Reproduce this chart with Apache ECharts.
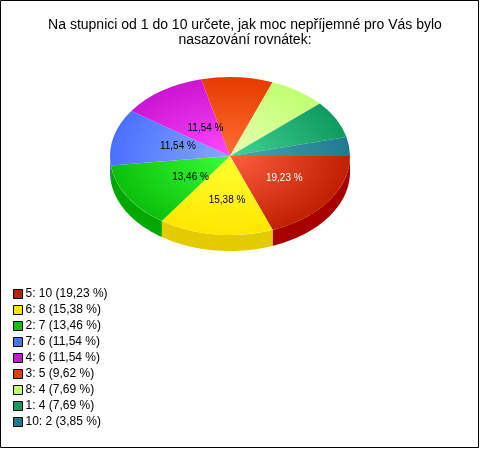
<!DOCTYPE html>
<html><head><meta charset="utf-8">
<style>html,body{margin:0;padding:0;background:#fff}#c{width:480px;height:449px}</style>
<script src="https://cdn.jsdelivr.net/npm/echarts@6/dist/echarts.min.js"></script>
</head><body><div id="c"></div>
<script>
const titleText = "Na stupnici od 1 do 10 určete, jak moc nepříjemné pro Vás bylo\nnasazování rovnátek:";
const categories = ["5","6","2","7","4","3","8","1","10"];
const values = [10,8,7,6,6,5,4,4,2];
const percents = ["19,23","15,38","13,46","11,54","11,54","9,62","7,69","7,69","3,85"];
const edgeColors = ["#c01f00","#ffe600","#0cc00c","#4a70ff","#cc14d4","#e63c00","#c0ff70","#109a60","#1f7a90"];
const centerColors = ["#ff5f3f","#ffff33","#36ff36","#85a8ff","#ff48ff","#ff6e33","#e8ffb4","#42d494","#4aa8b0"];
const wallColors = ["#a80000","#e3cb00","#00a800","#3a5ccc","#a010a8","#c03000","#a0d860","#0c8050","#186478"];

const FONT = '"Liberation Sans", Arial, sans-serif';
const CX = 230, CY = 156, RX = 120, RY = 79, DEPTH = 16;
const total = values.reduce((a,b)=>a+b,0);
const labelShift = [[0,-2],[5,1],[17,-1],[12,1],[13,8]];

function renderSlice(idx){
  return function(params, api){
    const before = values.slice(0,idx).reduce((a,b)=>a+b,0);
    const a0 = before/total*Math.PI*2;
    const a1 = (before+api.value(0))/total*Math.PI*2;
    const children = [];
    const w0 = a0, w1 = Math.min(a1, Math.PI);
    if (w0 < Math.PI){
      const top = [], bottom = [];
      const n = 48;
      for (let i=0;i<=n;i++){
        const a = w0+(w1-w0)*i/n;
        const x = CX+RX*Math.cos(a), y = CY+RY*Math.sin(a);
        top.push([x,y]); bottom.unshift([x,y+DEPTH]);
      }
      children.push({type:'polygon',shape:{points:top.concat(bottom)},style:{fill:wallColors[idx]},silent:true});
    }
    children.push({
      type:'sector',x:CX,y:CY,scaleX:1,scaleY:RY/RX,
      shape:{cx:0,cy:0,r0:0,r:RX,startAngle:a0,endAngle:a1,clockwise:true},
      style:{fill:{type:'radial',x:0,y:0,r:RX,global:true,
        colorStops:[{offset:0,color:centerColors[idx]},{offset:1,color:edgeColors[idx]}]}}
    });
    if (idx < labelShift.length){
      const m = (a0+a1)/2, f = 0.55;
      children.push({type:'text',
        x:CX+RX*f*Math.cos(m)+labelShift[idx][0],
        y:CY+RY*f*Math.sin(m)+labelShift[idx][1],
        z2:10,
        style:{text:percents[idx]+" %",fill:idx===0?"#fff":"#000",font:'10px '+FONT,align:'center',verticalAlign:'middle'}});
    }
    return {type:'group',children};
  };
}

const names = categories.map((c,i)=>c+": "+values[i]+" ("+percents[i]+" %)");
const chart = echarts.init(document.getElementById('c'),null,{renderer:'canvas'});
chart.setOption({
  animation:false,
  backgroundColor:'#fff',
  title:{text:titleText,left:240,textAlign:'center',top:13,
    textStyle:{fontFamily:FONT,fontSize:14,fontWeight:'normal',color:'#000',lineHeight:15}},
  legend:{orient:'vertical',left:8,top:283,itemWidth:9,itemHeight:9,itemGap:4,selectedMode:false,
    icon:'rect',data:names,
    textStyle:{fontFamily:FONT,fontSize:12,color:'#000',padding:[0,0,0,-2],lineHeight:12},
    itemStyle:{borderColor:'#000',borderWidth:1}},
  graphic:[{type:'rect',shape:{x:0.5,y:0.5,width:478,height:447},style:{fill:'none',stroke:'#000',lineWidth:1},silent:true}],
  series:names.map((n,i)=>({
    type:'custom',name:n,coordinateSystem:'none',
    itemStyle:{color:edgeColors[i],borderColor:'#000',borderWidth:1},
    data:[[values[i]]],
    renderItem:renderSlice(i)
  }))
});
</script></body></html>
